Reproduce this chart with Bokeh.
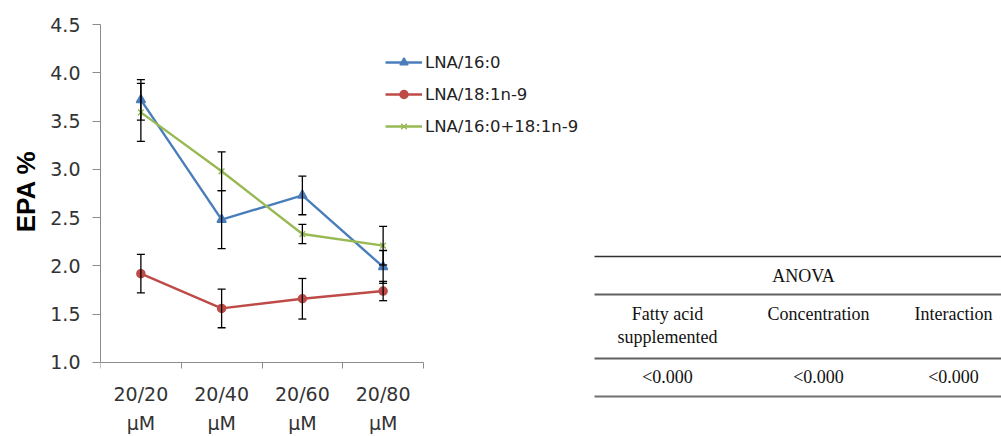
from bokeh.plotting import figure
from bokeh.models import (Range1d, FixedTicker, ColumnDataSource, Whisker, TeeHead,
                          Legend, LegendItem, Title)
from bokeh.layouts import row
from bokeh.core.properties import value
from bokeh.embed import file_html
from bokeh.resources import INLINE

# ---------------- data ----------------
categories = ["20/20\nμM", "20/40\nμM", "20/60\nμM", "20/80\nμM"]
series_names = ["LNA/16:0", "LNA/18:1n-9", "LNA/16:0+18:1n-9"]
lna_160 = [3.72, 2.48, 2.73, 1.99]
lna_160_err = [0.21, 0.30, 0.20, 0.17]
lna_181 = [1.92, 1.56, 1.66, 1.74]
lna_181_err = [0.20, 0.20, 0.21, 0.10]
lna_mix = [3.59, 2.98, 2.33, 2.21]
lna_mix_err = [0.30, 0.20, 0.10, 0.20]
y_ticks = [1.0, 1.5, 2.0, 2.5, 3.0, 3.5, 4.0, 4.5]
y_label = "EPA %"

anova_title = "ANOVA"
anova_headers = [["Fatty acid", "supplemented"], ["Concentration"], ["Interaction"]]
anova_values = ["<0.000", "<0.000", "<0.000"]

colors = ["#4A7EBB", "#BE4B48", "#98B954"]

# ---------------- chart ----------------
xs = list(range(1, len(categories) + 1))
y_min, y_max = y_ticks[0], y_ticks[-1]
# frame spans 100..590 px horizontally (80.75 px per category) and 24..436 px
# vertically (96.57 px per unit); the x axis sits at y = 1.0
x_end = 0.5 + 490 / 80.75
y_start = y_min - 74 / 96.57
p = figure(width=590, height=436, output_backend="svg", toolbar_location=None,
           x_range=Range1d(0.5, x_end), y_range=Range1d(y_start, y_max),
           min_border_left=100, min_border_right=0, min_border_top=24,
           min_border_bottom=0)
p.outline_line_color = None
p.xgrid.visible = False
p.ygrid.visible = False
p.background_fill_color = "white"

tick_font = "DejaVu Sans"
p.xaxis.fixed_location = y_min
p.xaxis.bounds = (0.5, len(categories) + 0.5)
p.yaxis.bounds = (y_min, y_max)
# x axis: major ticks at category centres (labels), minor ticks at boundaries
p.xaxis.ticker = FixedTicker(ticks=xs, minor_ticks=[x - 0.5 for x in xs] + [xs[-1] + 0.5])
p.xaxis.major_label_overrides = {x: c for x, c in zip(xs, categories)}
p.xaxis.major_tick_out = 0
p.xaxis.major_tick_in = 0
p.xaxis.minor_tick_out = 6
p.xaxis.minor_tick_in = 0
p.xaxis.major_label_standoff = 15
p.xaxis.major_label_text_line_height = 1.3
p.yaxis.ticker = FixedTicker(ticks=y_ticks)
p.yaxis.major_label_overrides = {t: f"{t:.1f}" for t in y_ticks}
p.yaxis.minor_tick_out = 0
p.yaxis.minor_tick_in = 0
p.yaxis.major_tick_out = 8
p.yaxis.major_tick_in = 0
p.yaxis.major_label_standoff = 12
for ax in (p.xaxis, p.yaxis):
    ax.axis_line_color = "#8C8C8C"
    ax.major_tick_line_color = "#8C8C8C"
    ax.minor_tick_line_color = "#8C8C8C"
    ax.major_label_text_font = tick_font
    ax.major_label_text_font_size = "19px"
    ax.major_label_text_color = "#333333"

# y axis title placed in the left panel, its upper end ~126 px below the frame top
p.add_layout(Title(text=y_label, align="right", offset=126, standoff=12,
                   text_font="Liberation Sans", text_font_style="bold",
                   text_font_size="26px", text_color="black",
                   vertical_align="middle"), "left")

all_series = [(lna_160, lna_160_err), (lna_181, lna_181_err), (lna_mix, lna_mix_err)]
markers = ["triangle", "circle", "x"]
marker_sizes = [9, 8, 8]

items = []
for (vals, errs), col, mk, ms, name in zip(all_series, colors, markers, marker_sizes, series_names):
    src = ColumnDataSource(dict(x=xs, y=vals))
    ln = p.line("x", "y", source=src, line_color=col, line_width=2.4)
    sc = p.scatter("x", "y", source=src, marker=mk, size=ms, fill_color=col,
                   line_color=col, line_width=1.5)
    items.append(LegendItem(label=name, renderers=[ln, sc]))

for (vals, errs) in all_series:
    src = ColumnDataSource(dict(x=xs,
                                upper=[v + e for v, e in zip(vals, errs)],
                                lower=[v - e for v, e in zip(vals, errs)]))
    w = Whisker(base="x", upper="upper", lower="lower", source=src, dimension="height",
                line_color="black", line_width=1.3, level="overlay",
                upper_head=TeeHead(size=8, line_color="black", line_width=1.3),
                lower_head=TeeHead(size=8, line_color="black", line_width=1.3))
    p.add_layout(w)

# legend: top-left corner at canvas (385, 52); location = lower-left in frame px
legend = Legend(items=items, location=(285, 300), padding=0, margin=0, spacing=12,
                glyph_width=37, glyph_height=20, label_height=20, label_standoff=3,
                label_text_font=tick_font, label_text_font_size="16.5px",
                label_text_color="#222222", border_line_alpha=0,
                background_fill_alpha=0)
p.add_layout(legend)

# ---------------- ANOVA table ----------------
t = figure(width=411, height=436, output_backend="svg", toolbar_location=None,
           x_range=Range1d(590, 1001), y_range=Range1d(436, 24),
           x_axis_location=None, y_axis_location=None,
           min_border_left=0, min_border_right=0, min_border_top=24,
           min_border_bottom=0)
t.grid.visible = False
t.outline_line_color = None

rule_y = [256, 294, 358, 396]
rule_w = [1.6, 2.2, 2.2, 2.2]
rule_c = ["#303030", "#606060", "#606060", "#707070"]
t.segment(x0=[594] * 4, x1=[1001] * 4, y0=rule_y, y1=rule_y,
          line_color=rule_c, line_width=rule_w)

col_x = [667, 818, 953]
serif = value("Liberation Serif")
t.text(x=[803], y=[275], text=[anova_title], text_font=serif, text_font_size="18px",
       text_align="center", text_baseline="middle", text_color="#111111")
hx, hy, ht = [], [], []
for cx, lines in zip(col_x, anova_headers):
    for i, ln_ in enumerate(lines):
        hx.append(cx)
        hy.append(313 + 23 * i)
        ht.append(ln_)
t.text(x=hx, y=hy, text=ht, text_font=serif, text_font_size="18px",
       text_align="center", text_baseline="middle", text_color="#111111")
t.text(x=col_x, y=[376] * 3, text=anova_values, text_font=serif, text_font_size="18px",
       text_align="center", text_baseline="middle", text_color="#111111")

layout = row(p, t, spacing=0)
open("out.html", "w").write(file_html(layout, INLINE))
